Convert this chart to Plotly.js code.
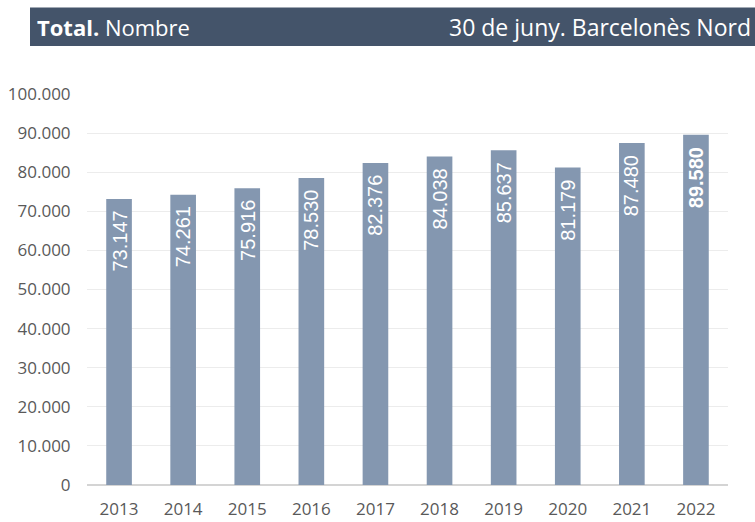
<!DOCTYPE html>
<html>
<head>
<meta charset="utf-8">
<script src="https://cdn.plot.ly/plotly-3.0.1.min.js"></script>
<style>
html,body{margin:0;padding:0;background:#fff;}
#chart{width:755px;height:522px;}
</style>
</head>
<body>
<div id="chart"></div>
<script>
const years = ['2013','2014','2015','2016','2017','2018','2019','2020','2021','2022'];
const values = [73147, 74261, 75916, 78530, 82376, 84038, 85637, 81179, 87480, 89580];
const yTickVals = [0,10000,20000,30000,40000,50000,60000,70000,80000,90000,100000];

function fmt(v){ return String(v).replace(/\B(?=(\d{3})+(?!\d))/g, '.'); }
const labels = values.map((v,i) => i === values.length-1 ? '<b>'+fmt(v)+'</b>' : fmt(v));
const yTickText = yTickVals.map(fmt);

const W = 755, H = 522;
const L = 87, R = 27, T = 94, B = 37;
const pw = W - L - R, ph = H - T - B;
const px = x => (x - L) / pw;
const py = y => (H - B - y) / ph;

const trace = {
  type: 'bar',
  x: years,
  y: values,
  marker: {color: '#8497b0'},
  hoverinfo: 'none'
};

const labelAnnotations = years.map((yr, i) => ({
  xref: 'x', yref: 'y', x: i, y: values[i],
  xanchor: 'center', yanchor: 'top', yshift: -10,
  textangle: -90, showarrow: false,
  text: labels[i],
  font: {family: 'Liberation Sans, Arial, sans-serif', size: 20, color: '#ffffff'}
}));

const layout = {
  width: W, height: H,
  margin: {l: L, r: R, t: T, b: B, pad: 0},
  paper_bgcolor: '#ffffff',
  plot_bgcolor: '#ffffff',
  bargap: 0.6,
  showlegend: false,
  font: {family: 'Open Sans, sans-serif', color: '#595959'},
  xaxis: {
    type: 'category',
    categoryarray: years,
    range: [-0.5, years.length - 0.5],
    showgrid: false,
    zeroline: false,
    showline: false,
    ticks: 'outside', ticklen: 9, tickcolor: 'rgba(0,0,0,0)',
    tickfont: {family: 'Open Sans, sans-serif', size: 17, color: '#595959'},
    fixedrange: true
  },
  yaxis: {
    range: [0, 100000],
    tickvals: yTickVals,
    ticktext: yTickText,
    showgrid: true,
    gridcolor: '#ececec',
    gridwidth: 1,
    zeroline: true,
    zerolinecolor: '#d4d4d4',
    zerolinewidth: 1.5,
    showline: false,
    ticks: 'outside', ticklen: 12, tickcolor: 'rgba(0,0,0,0)',
    tickfont: {family: 'Open Sans, sans-serif', size: 17, color: '#595959'},
    fixedrange: true
  },
  shapes: [{
    type: 'rect', xref: 'paper', yref: 'paper',
    x0: px(30), x1: px(755), y0: py(46), y1: py(7.5),
    fillcolor: '#44546a', line: {width: 0}, layer: 'below'
  }],
  annotations: [
    {
      xref: 'paper', yref: 'paper', x: px(35), y: py(27),
      xanchor: 'left', yanchor: 'middle', showarrow: false,
      text: '<b>Total.</b> Nombre',
      font: {family: 'Open Sans, sans-serif', size: 22, color: '#ffffff'}
    },
    {
      xref: 'paper', yref: 'paper', x: px(753), y: py(27),
      xanchor: 'right', yanchor: 'middle', showarrow: false,
      text: '30 de juny. Barcelonès Nord',
      font: {family: 'Open Sans, sans-serif', size: 23, color: '#ffffff'}
    }
  ].concat(labelAnnotations)
};

Plotly.newPlot('chart', [trace], layout, {displayModeBar: false, staticPlot: true});
</script>
</body>
</html>
